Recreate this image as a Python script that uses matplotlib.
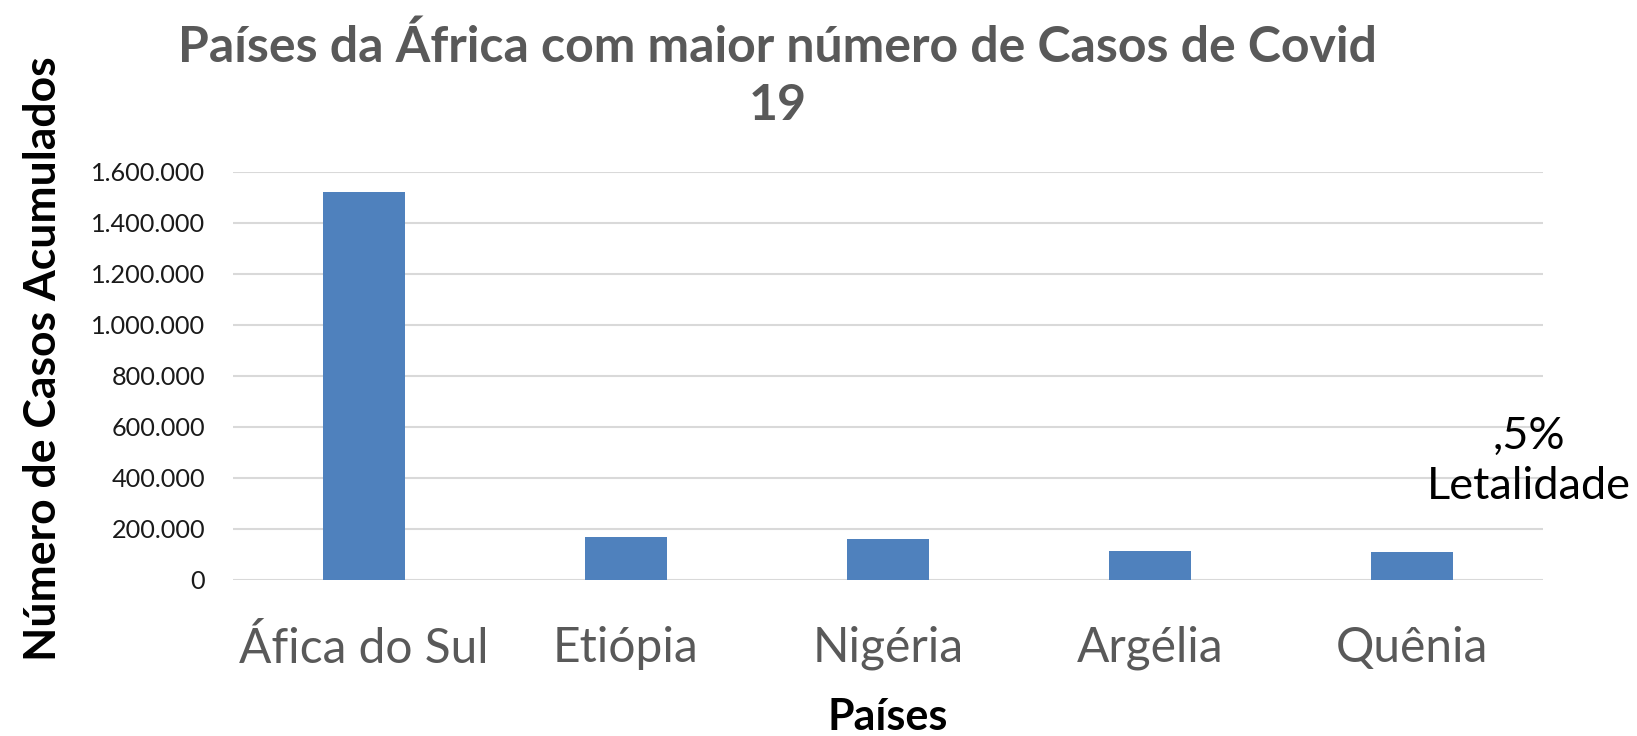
import matplotlib
matplotlib.use('Agg')
import matplotlib.pyplot as plt
from matplotlib.ticker import FuncFormatter

# Data.
paises = ['Áfica do Sul', 'Etiópia', 'Nigéria', 'Argélia', 'Quênia']
casos = [1521000, 168000, 159000, 114000, 108000]
y_ticks = [0, 200000, 400000, 600000, 800000, 1000000, 1200000, 1400000, 1600000]

titulo = 'Países da África com maior número de Casos de Covid\n19'
nota = ',5%\nLetalidade'

plt.rcParams['font.family'] = ['Lato', 'DejaVu Sans']

fig = plt.figure(figsize=(16.37, 7.36), dpi=100)
ax = fig.add_axes([0.1423, 0.2124, 0.8003, 0.5543])

ax.bar(range(len(paises)), casos, width=0.31, color='#4F81BD', zorder=3)

ax.set_xlim(-0.5, len(paises) - 0.5)
ax.set_ylim(0, 1600000)
ax.set_yticks(y_ticks)
ax.yaxis.set_major_formatter(FuncFormatter(lambda v, p: f'{int(v):,}'.replace(',', '.')))
ax.grid(axis='y', color='#d9d9d9', linewidth=1.5, zorder=0)
for s in ax.spines.values():
    s.set_visible(False)

ax.set_xticks(range(len(paises)))
ax.set_xticklabels(paises, fontsize=34.5, color='#595959')
ax.tick_params(axis='x', length=0, pad=33)
ax.tick_params(axis='y', length=0, pad=20, labelsize=18.2, labelcolor='#1a1a1a')

fig.text(0.475, 0.897, titulo, ha='center', va='center', fontsize=36,
         fontweight='bold', color='#595959', linespacing=1.33)
fig.text(0.026, 0.513, 'Número de Casos Acumulados', rotation=90, ha='center',
         va='center', fontsize=32, fontweight='bold', color='black')
fig.text(0.5425, 0.026, 'Países', ha='center', va='center', fontsize=31,
         fontweight='bold', color='black')
fig.text(0.934, 0.373, nota, ha='center', va='center', fontsize=32.5,
         color='black', linespacing=1.25)

plt.savefig('out.png', dpi=100)
